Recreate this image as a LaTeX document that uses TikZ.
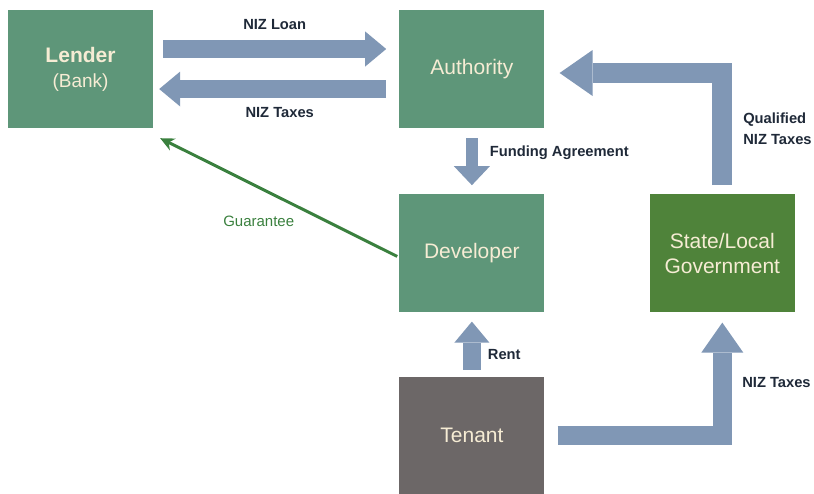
\documentclass[tikz,border=0pt]{standalone}
\usepackage{fontspec}
\setmainfont{Liberation Sans}
\usetikzlibrary{arrows.meta}
\usetikzlibrary{positioning}
\definecolor{clrBox}{RGB}{94,150,121}
\definecolor{clrGov}{RGB}{79,131,58}
\definecolor{clrTenant}{RGB}{108,103,103}
\definecolor{clrArrow}{RGB}{128,151,181}
\definecolor{myFnt}{RGB}{246,236,212}
\definecolor{clrLbl}{RGB}{31,41,56}
\definecolor{clrGuar}{RGB}{58,128,62}
\tikzstyle{box_style}=[anchor=center, text centered, align=center, text=myFnt, inner sep=0pt,
minimum width=145pt, minimum height=118pt, font=\fontsize{21}{25}\selectfont]
\tikzstyle{box_green}=[box_style, fill=clrBox]
\tikzstyle{fat_arrow}=[draw=clrArrow, line width=18pt, line join=miter,
-{Triangle[length=21pt, width=35pt, line width=0pt]}]
\tikzstyle{lbl}=[text=clrLbl, inner sep=0pt, outer sep=0pt, font=\fontsize{14.7}{21}\selectfont\bfseries]

\begin{document}
\begin{tikzpicture}[x=1pt, y=1pt]
		\useasboundingbox (0,0) rectangle (814,-493) ;

		\node[box_green] (A) at (80.5,-69) {\textbf{Lender}\\{\fontsize{19}{25}\selectfont(Bank)}} ;
		\node[box_green, right=246pt of A] (B) {Authority} ;
		\node[box_green, below=66pt of B] (C) {Developer} ;
		\node[box_style, fill=clrGov, right=105pt of C] (D) {State/Local\\Government} ;
		\node[box_style, fill=clrTenant, below=64pt of C] (E) {Tenant} ;

		% loan and taxes between lender and authority
		\draw[fat_arrow] ([xshift=10pt,yshift=20pt]A.east) -- ([xshift=-13pt,yshift=20pt]B.west)
			node[lbl, midway, yshift=24pt] (l1) {NIZ Loan} ;
		\draw[fat_arrow] ([xshift=-13pt,yshift=-20pt]B.west) -- ([xshift=6pt,yshift=-20pt]A.east)
			node[lbl, midway, xshift=7pt, yshift=-24pt] (l2) {NIZ Taxes} ;

		\draw[fat_arrow, line width=12pt, -{Triangle[length=19pt, width=36pt, line width=0pt]}]
			([yshift=-10pt]B.south) -- ([yshift=9pt]C.north)
			node[lbl, midway, anchor=west, xshift=18pt, yshift=9pt] (l3) {Funding Agreement} ;

		\draw[fat_arrow, line width=20pt, -{Triangle[length=33pt, width=46pt, line width=0pt]}]
			([yshift=9pt]D.north) |- ([xshift=15pt,yshift=-4pt]B.east)
			node[lbl, pos=0.25, anchor=west, xshift=21pt, align=left] (l4) {Qualified\\NIZ Taxes} ;

		\draw[fat_arrow] ([yshift=7pt]E.north) -- ([yshift=-9pt]C.south)
			node[lbl, midway, anchor=west, xshift=16pt, yshift=-9pt] (l5) {Rent} ;

		\draw[fat_arrow, line width=19pt, -{Triangle[length=30pt, width=42pt, line width=0pt]}]
			([xshift=13pt]E.east) -| ([yshift=-10pt]D.south)
			node[lbl, pos=0.75, anchor=west, xshift=20pt, yshift=-3pt] (l6) {NIZ Taxes} ;

		% guarantee from developer back to the bank
		\draw[clrGuar, line width=3pt, -{Stealth[length=14pt, width=13pt]}] ([xshift=-2pt,yshift=-3pt]C.west) -- ([xshift=7pt,yshift=-10pt]A.south east)
			node[midway, xshift=-20pt, yshift=-24pt, text=clrGuar, font=\fontsize{15}{18}\selectfont] (l7) {Guarantee} ;
\end{tikzpicture}
\end{document}
